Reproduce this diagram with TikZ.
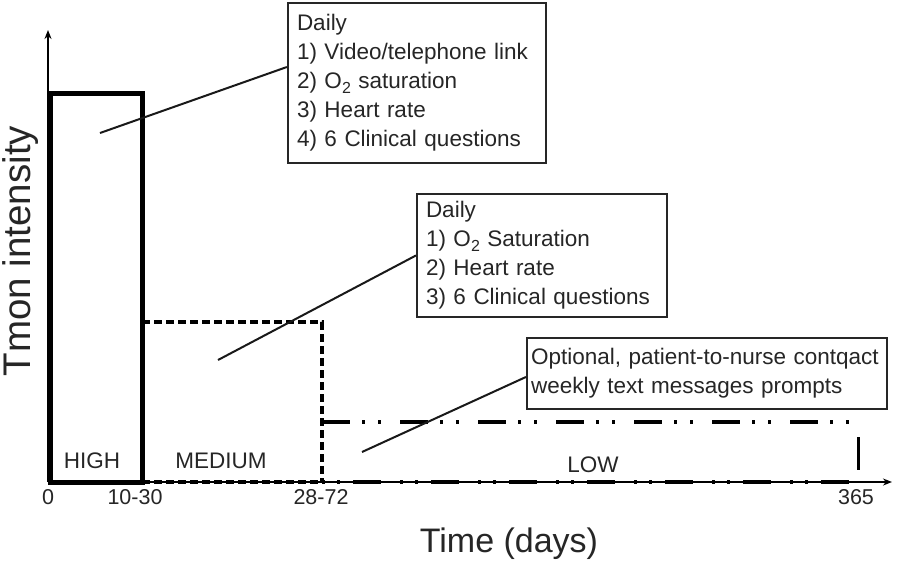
\documentclass[tikz,border=0pt]{standalone}
\usepackage{fontspec}
\setmainfont{Liberation Sans}
\usetikzlibrary{arrows.meta}
\newcommand{\sbt}{\raisebox{-0.4ex}{\fontsize{16}{16}\selectfont 2}}
\begin{document}
\begin{tikzpicture}[x=1pt,y=-1pt,
  txt/.style={font=\fontsize{22.5}{29}\selectfont, text=black!85},
  callbox/.style={draw=black!85, line width=2.2pt, fill=white, align=left, inner sep=0pt,
     font=\fontsize{22.5}{29}\selectfont, text=black!85},
  callline/.style={draw=black!90, line width=2pt},
  axisline/.style={draw=black, line width=1.8pt, -{Stealth[length=9pt,width=7pt]}},
  highline/.style={draw=black, line width=5pt},
  medline/.style={draw=black, line width=3.4pt, dash pattern=on 8pt off 4pt},
  lowtop/.style={draw=black, line width=3.2pt, dash pattern=on 28pt off 12pt on 3pt off 13pt on 3pt off 19pt},
  lowbot/.style={draw=black, line width=3.2pt, dash pattern=on 3pt off 12pt on 3pt off 13pt on 28pt off 19pt}]
\useasboundingbox (0,0) rectangle (900,563);
\fill[white] (0,0) rectangle (900,563);

% axes
\coordinate (o) at (48,482);
\coordinate (ytip) at (48,30);
\coordinate (xtip) at (892,482);
\draw[axisline] (o) -- (ytip);
\draw[axisline] (o) -- (xtip);

% HIGH box
\draw[highline, line join=miter] (50,482) -- (50,93) -- (142,93) -- (142,482) -- cycle;

% MEDIUM
\draw[medline] (142,322) -- (322,322) -- (322,482);
\draw[medline] (142,482) -- (322,482);

% LOW
\draw[lowtop] (322,422) -- (860,422);
\draw[lowbot] (322,482) -- (860,482);
\draw[draw=black, line width=3pt] (858,437) -- (858,470);

% region labels
\node[txt] (high) at (92,461) {HIGH};
\node[txt] (medium) at (221,461) {MEDIUM};
\node[txt] (low) at (593,465) {LOW};

% ticks
\node[txt, font=\fontsize{21.5}{24}\selectfont] (t0) at (48,497) {0};
\node[txt, font=\fontsize{21.5}{24}\selectfont] (t1) at (135,497) {10-30};
\node[txt, font=\fontsize{21.5}{24}\selectfont] (t2) at (321,497) {28-72};
\node[txt, font=\fontsize{21.5}{24}\selectfont] (t3) at (856,497) {365};

% axis titles
\node[txt, font=\fontsize{34}{40}\selectfont] (xlab) at (509,544) {Time (days)};
\node[txt, font=\fontsize{38.5}{44}\selectfont, rotate=90] (ylab) at (21,251) {Tmon intensity};

% callout boxes
\node[callbox, minimum width=258pt, minimum height=160pt, text width=240pt] (b1) at (417,83)
 {Daily\\1) Video/telephone link\\2) O\sbt{} saturation\\3) Heart rate\\4) 6 Clinical questions};
\node[callbox, minimum width=250pt, minimum height=123pt, text width=232pt] (b2) at (542,255.5)
 {Daily\\1) O\sbt{} Saturation\\2) Heart rate\\3) 6 Clinical questions};
\node[callbox, minimum width=360pt, minimum height=71pt, text width=352pt] (b3) at (707,373.5)
 {Optional, patient-to-nurse contqact\\weekly text messages prompts};

% callout lines
\coordinate (p1) at (100,133);
\coordinate (p2) at (218,360);
\coordinate (p3) at (362,452);
\draw[callline] (p1) -- ([yshift=16pt]b1.west);
\draw[callline] (p2) -- (b2.west);
\draw[callline] (p3) -- ([yshift=-3.5pt]b3.west);
\end{tikzpicture}
\end{document}
